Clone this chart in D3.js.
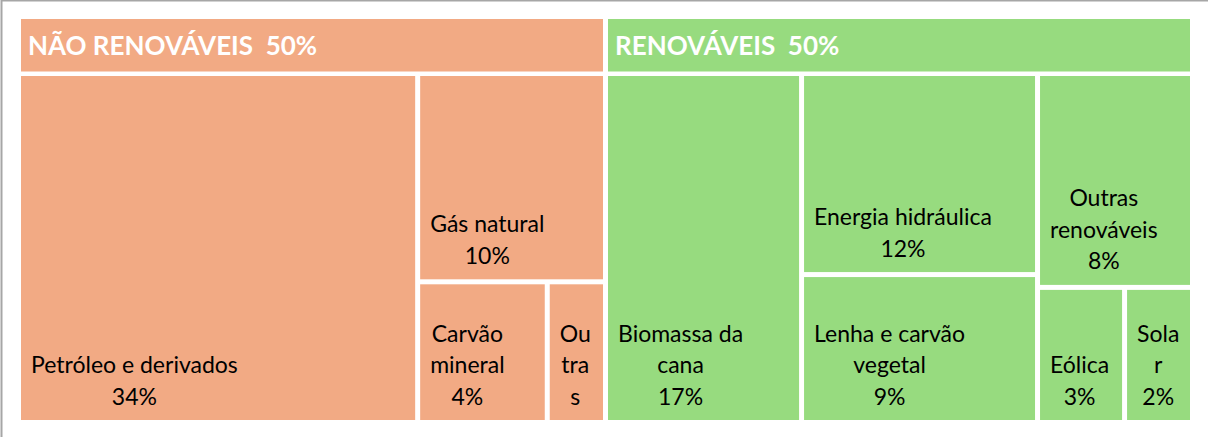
<!DOCTYPE html>
<html>
<head>
<meta charset="utf-8">
<script src="https://cdn.jsdelivr.net/npm/d3@7"></script>
<style>
	body { margin: 0; background: #fff; }
	text { font-family: Lato, "Open Sans", sans-serif; }
</style>
</head>
<body>
<svg width="1208" height="437"></svg>
<script>
// grupos da matriz energetica
var groupNames = ["NÃO RENOVÁVEIS", "RENOVÁVEIS"];
var groupColors = ["#F2AA84", "#97DB7F"];

// não renováveis (% da oferta interna)
var naoRenovNames = ["Petróleo e derivados", "Gás natural", "Carvão mineral", "Outras"];
var naoRenovValues = [34.0, 9.55, 4.45, 2.0];

// renováveis
var renovNames = ["Biomassa da cana", "Energia hidráulica", "Lenha e carvão vegetal", "Outras renováveis", "Eólica", "Solar"];
var renovValues = [16.7, 11.58, 8.52, 8.09, 2.87, 2.24];

var svg = d3.select("svg"),
	width = +svg.attr("width"),
	height = +svg.attr("height");

var margin = { top: 19, right: 18, bottom: 17, left: 21 };
var headerH = 52.5,
	headerPad = 57,
	labelSize = 23,
	lineH = 31.5,
	padX = 10;

// moldura cinza do grafico
svg.append("rect")
	.attr("x", 1.5).attr("y", 0.5)
	.attr("width", width + 20).attr("height", height + 20)
	.attr("fill", "none")
	.attr("stroke", "#a6a6a6")
	.attr("stroke-width", 2);

var data = {
	name: "root",
	children: [
		{ name: groupNames[0], color: groupColors[0], children: naoRenovNames.map(function(n, i) { return { name: n, value: naoRenovValues[i] }; }) },
		{ name: groupNames[1], color: groupColors[1], children: renovNames.map(function(n, i) { return { name: n, value: renovValues[i] }; }) }
	]
};

var root = d3.hierarchy(data).sum(function(d) { return d.value || 0; });

d3.treemap()
	.tile(d3.treemapSquarify.ratio(1))
	.size([width - margin.left - margin.right, height - margin.top - margin.bottom])
	.paddingInner(5)
	.paddingTop(function(d) { return d.depth == 1 ? headerPad : 0; })
	(root);

var g = svg.append("g")
	.attr("transform", "translate(" + margin.left + "," + margin.top + ")");

// cabeçalhos dos grupos
var heads = g.selectAll("g.head")
	.data(root.children)
	.enter().append("g")
		.attr("class", "head");

heads.append("rect")
	.attr("x", function(d) { return d.x0; })
	.attr("y", function(d) { return d.y0; })
	.attr("width", function(d) { return d.x1 - d.x0; })
	.attr("height", headerH)
	.attr("fill", function(d) { return d.data.color; });

heads.append("text")
	.attr("x", function(d) { return d.x0 + 7; })
	.attr("y", function(d) { return d.y0 + 36; })
	.attr("fill", "#fff")
	.attr("font-weight", "bold")
	.attr("font-size", 26)
	.style("white-space", "pre")
	.text(function(d) { return d.data.name + "  " + Math.round(d.value) + "%"; });

// folhas
var leaves = g.selectAll("g.leaf")
	.data(root.leaves())
	.enter().append("g")
		.attr("class", "leaf");

leaves.append("rect")
	.attr("x", function(d) { return d.x0; })
	.attr("y", function(d) { return d.y0; })
	.attr("width", function(d) { return d.x1 - d.x0; })
	.attr("height", function(d) { return d.y1 - d.y0; })
	.attr("fill", function(d) { return d.parent.data.color; });

var measure = svg.append("text").attr("font-size", labelSize);
function textW(s) {
	measure.text(s);
	return measure.node().getComputedTextLength();
}

function wrapLines(name, avail) {
	var words = name.split(" "), lines = [], cur = "";
	words.forEach(function(w) {
		var test = cur ? cur + " " + w : w;
		if (textW(test) <= avail) { cur = test; return; }
		if (cur) lines.push(cur);
		cur = "";
		if (textW(w) <= avail) { cur = w; return; }
		// palavra longa demais: quebra por caractere
		for (var k = 0; k < w.length; k++) {
			if (cur && textW(cur + w[k]) > avail) { lines.push(cur); cur = ""; }
			cur += w[k];
		}
	});
	if (cur) lines.push(cur);
	return lines;
}

leaves.each(function(d) {
	var w = d.x1 - d.x0, h = d.y1 - d.y0;
	var lines = wrapLines(d.data.name, w - 2 * padX);
	lines.push(Math.round(d.value) + "%");
	var maxLines = Math.floor((h - 20) / lineH);
	lines = lines.slice(0, maxLines);
	var blockW = d3.max(lines, textW);
	var cx = d.x0 + padX + blockW / 2;
	var lastY = d.y1 - 15.5;
	var t = d3.select(this).append("text")
		.attr("font-size", labelSize)
		.attr("fill", "#000")
		.attr("text-anchor", "middle");
	lines.forEach(function(l, i) {
		t.append("tspan")
			.attr("x", cx)
			.attr("y", lastY - (lines.length - 1 - i) * lineH)
			.text(l);
	});
});
measure.remove();
</script>
</body>
</html>
